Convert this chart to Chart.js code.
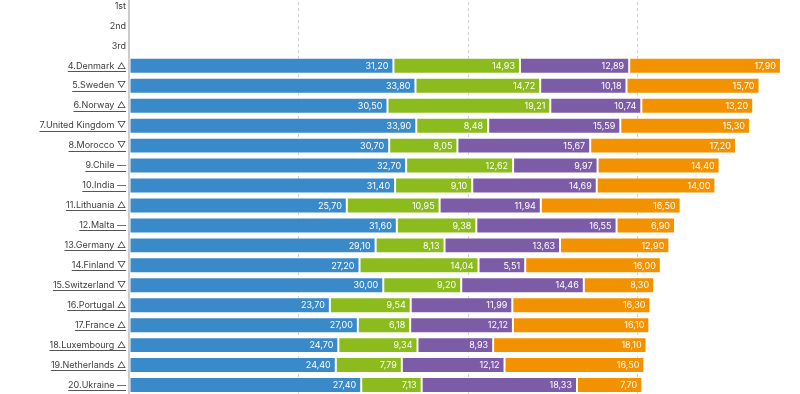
<!DOCTYPE html>
<html>
<head>
<meta charset="utf-8">
<script src="https://cdn.jsdelivr.net/npm/chart.js@4"></script>
<style>
  html, body { margin: 0; padding: 0; background: #fff; overflow: hidden; width: 800px; height: 394px; }
  #wrap { position: absolute; left: 0; top: -4px; width: 807px; height: 399px; }
</style>
</head>
<body>
<div id="wrap"><canvas id="chart"></canvas></div>
<script>
var labels = ['1st', '2nd', '3rd', '4.Denmark △', '5.Sweden ▽', '6.Norway △', '7.United Kingdom ▽',
    '8.Morocco ▽', '9.Chile —', '10.India —', '11.Lithuania △', '12.Malta —', '13.Germany △',
    '14.Finland ▽', '15.Switzerland ▽', '16.Portugal △', '17.France △', '18.Luxembourg △',
    '19.Netherlands △', '20.Ukraine —'];

var ghgEmissions = [null, null, null, 31.20, 33.80, 30.50, 33.90, 30.70, 32.70, 31.40, 25.70, 31.60,
    29.10, 27.20, 30.00, 23.70, 27.00, 24.70, 24.40, 27.40];
var renewableEnergy = [null, null, null, 14.93, 14.72, 19.21, 8.48, 8.05, 12.62, 9.10, 10.95, 9.38,
    8.13, 14.04, 9.20, 9.54, 6.18, 9.34, 7.79, 7.13];
var energyUse = [null, null, null, 12.89, 10.18, 10.74, 15.59, 15.67, 9.97, 14.69, 11.94, 16.55,
    13.63, 5.51, 14.46, 11.99, 12.12, 8.93, 12.12, 18.33];
var climatePolicy = [null, null, null, 17.90, 15.70, 13.20, 15.30, 17.20, 14.40, 14.00, 16.50, 6.90,
    12.90, 16.00, 8.30, 16.30, 16.10, 18.10, 16.50, 7.70];

var FONT = "Inter, 'DejaVu Sans', sans-serif";
var FONT_SIZE = 9;
var TICK_PAD = 3;

// values inside the bars, right aligned
var valueLabels = {
    id: 'valueLabels',
    afterDatasetsDraw: function (chart) {
        var ctx = chart.ctx;
        ctx.save();
        ctx.font = FONT_SIZE + 'px ' + FONT;
        ctx.fillStyle = '#fff';
        ctx.textAlign = 'right';
        ctx.textBaseline = 'middle';
        chart.data.datasets.forEach(function (ds, i) {
            chart.getDatasetMeta(i).data.forEach(function (bar, j) {
                var v = ds.data[j];
                if (v == null) return;
                ctx.fillText(v.toFixed(2).replace('.', ','), bar.x - 5, bar.y + 0.5);
            });
        });
        ctx.restore();
    }
};

// underline the country labels
var underlineTicks = {
    id: 'underlineTicks',
    afterDraw: function (chart) {
        var scale = chart.scales.y;
        var ctx = chart.ctx;
        ctx.save();
        ctx.font = FONT_SIZE + 'px ' + FONT;
        ctx.strokeStyle = '#555';
        ctx.lineWidth = 1;
        scale.ticks.forEach(function (t, i) {
            if (i < 3) return;
            var w = ctx.measureText(labels[i]).width;
            var right = scale.right - TICK_PAD;
            var y = Math.round(scale.getPixelForTick(i) + 5) + 0.5;
            ctx.beginPath();
            ctx.moveTo(right - w, y);
            ctx.lineTo(right, y);
            ctx.stroke();
        });
        ctx.restore();
    }
};

function ds(label, data, color) {
    return {
        label: label,
        data: data,
        backgroundColor: color,
        borderColor: 'rgba(255,255,255,0.55)',
        borderWidth: 1,
        borderSkipped: false,
        categoryPercentage: 1,
        barPercentage: 0.8
    };
}

new Chart(document.getElementById('chart'), {
    type: 'bar',
    data: {
        labels: labels,
        datasets: [
            ds('GHG Emissions', ghgEmissions, '#3a89c9'),
            ds('Renewable Energy', renewableEnergy, '#8bbb1c'),
            ds('Energy Use', energyUse, '#7c5ca6'),
            ds('Climate Policy', climatePolicy, '#f39200')
        ]
    },
    options: {
        indexAxis: 'y',
        responsive: true,
        maintainAspectRatio: false,
        animation: false,
        layout: { padding: 0 },
        plugins: {
            legend: { display: false },
            tooltip: { enabled: false }
        },
        scales: {
            x: {
                stacked: true,
                min: 0,
                max: 80,
                ticks: { display: false, stepSize: 20 },
                grid: { color: '#d0d0d0', lineWidth: 1, drawTicks: false },
                border: { display: false, dash: [3, 3] },
                afterFit: function (scale) {
                    scale.height = 0;
                    scale.paddingLeft = 0;
                    scale.paddingRight = 0;
                }
            },
            y: {
                stacked: true,
                afterFit: function (scale) {
                    scale.width = 129;
                    scale.paddingTop = 0;
                    scale.paddingBottom = 0;
                },
                ticks: { color: '#3c3c3c', padding: TICK_PAD, font: { family: FONT, size: FONT_SIZE } },
                grid: { display: false, drawTicks: false },
                border: { display: true, color: '#cccccc', width: 2 }
            }
        }
    },
    plugins: [valueLabels, underlineTicks]
});
</script>
</body>
</html>
